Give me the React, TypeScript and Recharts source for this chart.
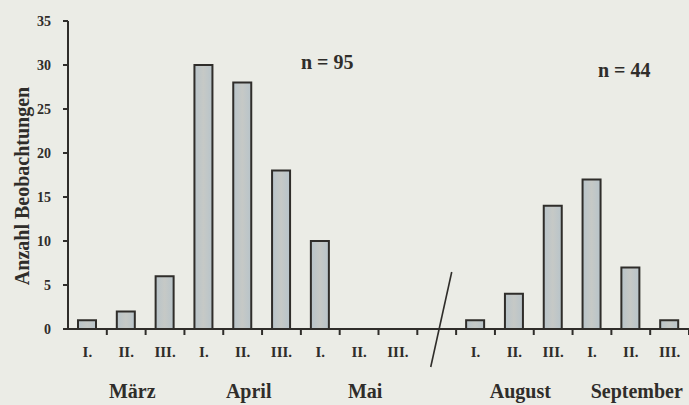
import { BarChart, Bar, XAxis, YAxis } from 'recharts'

const PERIODS = ['I.', 'II.', 'III.', 'I.', 'II.', 'III.', 'I.', 'II.', 'III.', '', 'I.', 'II.', 'III.', 'I.', 'II.', 'III.']
const MONTHS = ['März', 'März', 'März', 'April', 'April', 'April', 'Mai', 'Mai', 'Mai', '', 'August', 'August', 'August', 'September', 'September', 'September']
const COUNTS = [1, 2, 6, 30, 28, 18, 10, 0, 0, null, 1, 4, 14, 17, 7, 1]
const Y_TICKS = [0, 5, 10, 15, 20, 25, 30, 35]

const data = PERIODS.map((p, i) => ({
  key: `${MONTHS[i] || 'gap'}-${p}-${i}`,
  period: p,
  month: MONTHS[i],
  value: COUNTS[i],
}))

const SERIF = '"Liberation Serif", "DejaVu Serif", serif'
const INK = '#2f2d2a'

// period label, month name under the middle decade, tick marks on band edges,
// and the axis break drawn in the empty gap slot
function PeriodTick({ x, y, payload }: any) {
  const d = data[payload.index]
  if (!d) return null
  const half = payload.offset ?? 19.4
  const isGap = d.month === ''
  const last = payload.index === data.length - 1
  return (
    <g>
      {payload.index !== 0 && (
        <line x1={x - half} x2={x - half} y1={y} y2={y + 6} stroke={INK} strokeWidth={2} />
      )}
      {last && <line x1={x + half} x2={x + half} y1={y} y2={y + 6} stroke={INK} strokeWidth={2} />}
      {isGap && (
        <line x1={x + 15} y1={y - 57} x2={x - 6} y2={y + 38} stroke={INK} strokeWidth={1.6} />
      )}
      <text x={x} y={y + 28} textAnchor="middle" fontFamily={SERIF} fontWeight="bold" fontSize={15} fill={INK}>
        {d.period}
      </text>
      {d.period === 'II.' && (
        <text x={x + 6} y={y + 69} textAnchor="middle" fontFamily={SERIF} fontWeight="bold" fontSize={20} fill={INK}>
          {d.month}
        </text>
      )}
    </g>
  )
}

function CountTick({ x, y, payload }: any) {
  return (
    <text x={x} y={y} dy={5} textAnchor="end" fontFamily={SERIF} fontWeight="bold" fontSize={14} fill={INK}>
      {payload.value}
    </text>
  )
}

export default function App() {
  return (
    <div style={{ position: 'absolute', left: 0, top: 0, width: 689, height: 405, background: '#ebece6' }}>
      <BarChart width={689} height={405} data={data} margin={{ top: 21, right: 0, bottom: 0, left: 0 }}>
        <defs>
          <linearGradient id="barFill" x1="0" y1="0" x2="1" y2="0">
            <stop offset="0%" stopColor="#b8c4ca" />
            <stop offset="50%" stopColor="#c6c9c6" />
            <stop offset="100%" stopColor="#b8c4ca" />
          </linearGradient>
        </defs>
        <XAxis
          dataKey="key"
          interval={0}
          height={76}
          stroke={INK}
          axisLine={{ stroke: INK, strokeWidth: 2 }}
          tickLine={false}
          tickSize={0}
          tickMargin={0}
          tick={<PeriodTick />}
        />
        <YAxis
          domain={[0, 35]}
          ticks={Y_TICKS}
          width={68}
          stroke={INK}
          tickSize={5}
          tickMargin={12}
          axisLine={{ stroke: INK, strokeWidth: 2 }}
          tickLine={{ stroke: INK, strokeWidth: 2 }}
          tick={<CountTick />}
          label={{
            content: ({ viewBox }: any) => {
              const cy = viewBox.y + viewBox.height / 2 + 11
              return (
                <text
                  x={22}
                  y={cy}
                  transform={`rotate(-90 22 ${cy})`}
                  textAnchor="middle"
                  dominantBaseline="central"
                  fontFamily={SERIF}
                  fontWeight="bold"
                  fontSize={20}
                  fill={INK}
                >
                  Anzahl Beobachtungen
                </text>
              )
            },
          }}
        />
        <Bar
          dataKey="value"
          barSize={18}
          fill="url(#barFill)"
          stroke={INK}
          strokeWidth={2}
          isAnimationActive={false}
        />
      </BarChart>
      <div style={{ position: 'absolute', left: 301, top: 51, fontFamily: SERIF, fontWeight: 'bold', fontSize: 20, color: INK }}>
        n = 95
      </div>
      <div style={{ position: 'absolute', left: 598, top: 59, fontFamily: SERIF, fontWeight: 'bold', fontSize: 20, color: INK }}>
        n = 44
      </div>
    </div>
  )
}
